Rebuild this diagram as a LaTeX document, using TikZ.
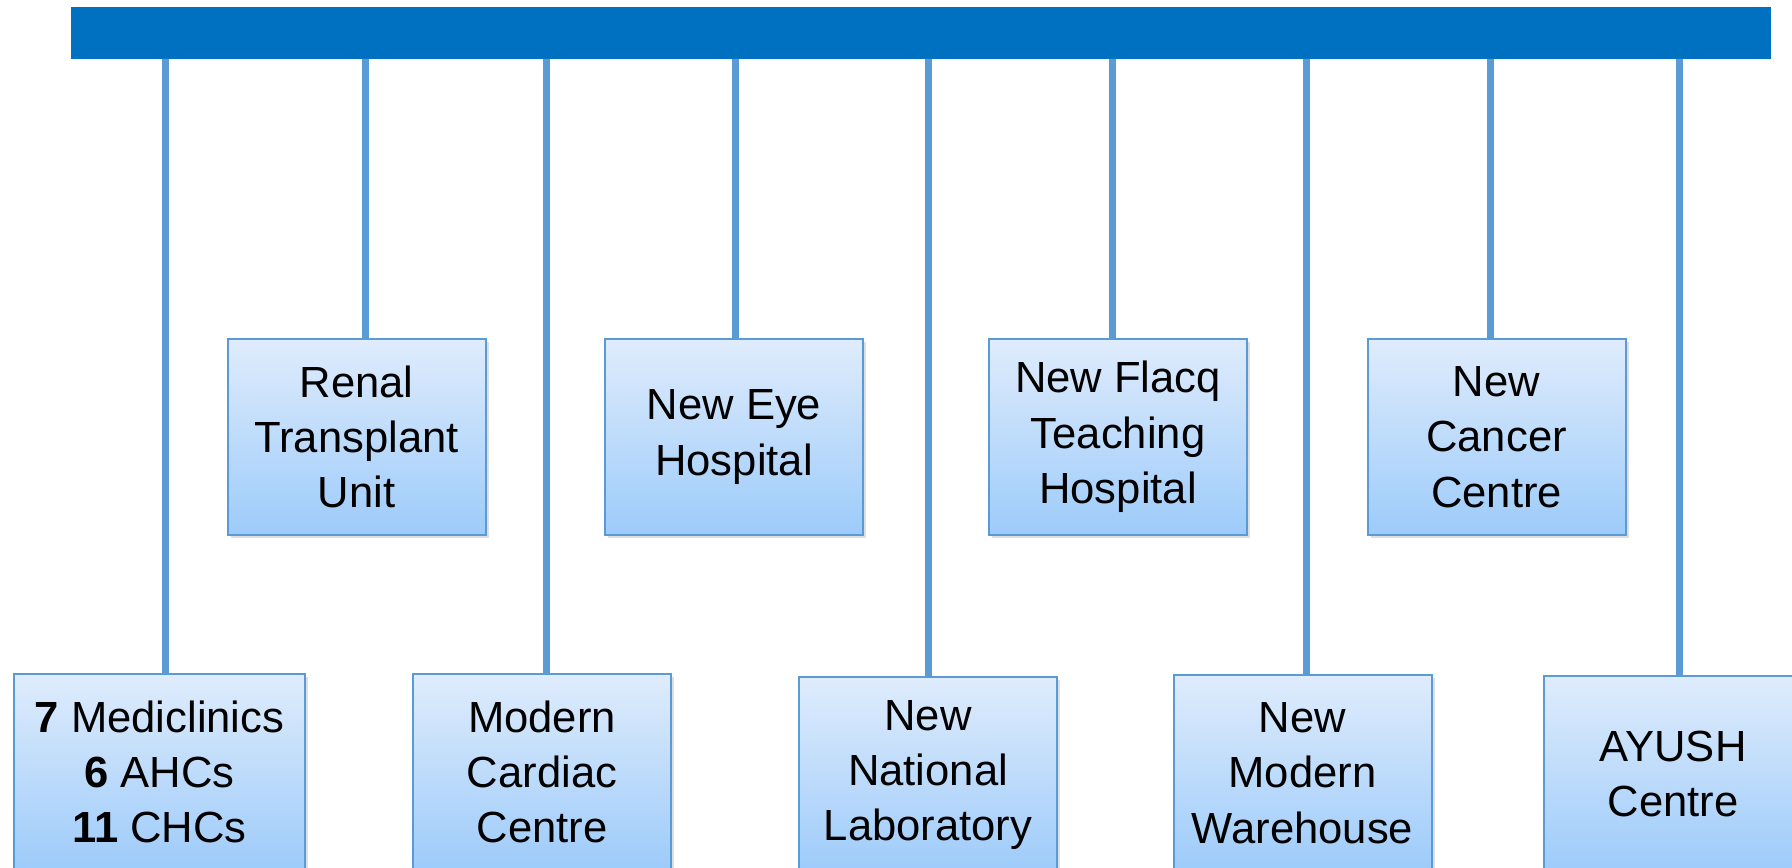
\documentclass[tikz,border=0pt]{standalone}
\usepackage{fontspec}
\setmainfont{Liberation Sans}
\usetikzlibrary{shadows}
\definecolor{barblue}{HTML}{0070C0}
\definecolor{stemblue}{HTML}{5B9BD5}
\definecolor{boxtop}{RGB}{223,236,252}
\definecolor{boxbot}{RGB}{157,203,250}
\begin{document}
\begin{tikzpicture}[x=0.5pt,y=-0.5pt,
        topbar/.style={fill=barblue, minimum width=850pt, minimum height=26pt, inner sep=0pt},
        unit/.style={draw=stemblue, line width=1pt, top color=boxtop, bottom color=boxbot,
            minimum width=129pt, minimum height=98pt, inner sep=0pt, align=center,
            font=\fontsize{21.8}{27.7}\selectfont,
            drop shadow={shadow xshift=1.5pt, shadow yshift=-1.5pt, opacity=0.25}},
        stem/.style={stemblue, line width=3.5pt}]
        \useasboundingbox (0,0) rectangle (1792,867);
        \node[topbar] (bar) at (921,33) {};
        % upper row
        \node[unit] (renal) at (356.5,437) {Renal\\Transplant\\Unit};
        \node[unit] (eye) at (734,437) {New Eye\\Hospital};
        \node[unit] (flacq) at (1118,437) {New Flacq\\Teaching\\Hospital};
        \node[unit] (cancer) at (1496.5,437) {New\\Cancer\\Centre};
        % lower row
        \node[unit, minimum width=145.5pt] (clinics) at (159.5,772) {\textbf{7} Mediclinics\\\textbf{6} AHCs\\\textbf{11} CHCs};
        \node[unit] (cardiac) at (542,772) {Modern\\Cardiac\\Centre};
        \node[unit] (lab) at (928,775) {New\\National\\Laboratory};
        \node[unit] (store) at (1302.5,773) {New\\Modern\\Warehouse};
        \node[unit] (ayush) at (1673,774) {AYUSH\\Centre};
        \foreach \n/\dx in {clinics/3pt, renal/4.5pt, cardiac/2pt, eye/0.5pt, lab/0pt,
                flacq/-3pt, store/2.2pt, cancer/-2.8pt, ayush/3pt}
            \draw[stem] ([xshift=\dx]\n.north) -- ([xshift=\dx]\n.north |- bar.south);
    \end{tikzpicture}
\end{document}
